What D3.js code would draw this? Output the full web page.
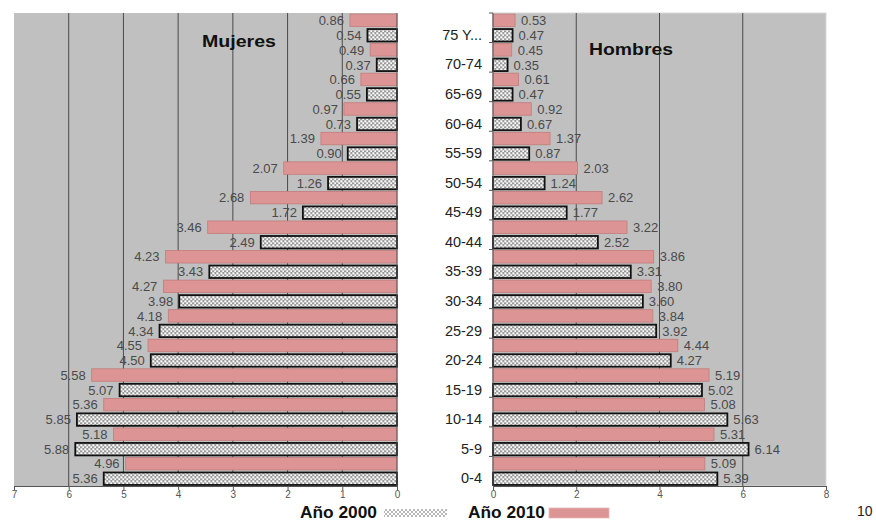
<!DOCTYPE html>
<html>
<head>
<meta charset="utf-8">
<script src="https://cdn.jsdelivr.net/npm/d3@7"></script>
<style>
  html, body { margin: 0; padding: 0; background: #fff; }
  svg { display: block; font-family: "Liberation Sans", Arial, sans-serif; }
</style>
</head>
<body>
<svg id="chart" width="876" height="521"></svg>
<script>
// ---- Data ----
const ageGroups = ["75 Y...", "70-74", "65-69", "60-64", "55-59", "50-54", "45-49", "40-44",
                   "35-39", "30-34", "25-29", "20-24", "15-19", "10-14", "5-9", "0-4"];
const series = ["2010", "2000"];
const mujeres2010 = [0.86, 0.49, 0.66, 0.97, 1.39, 2.07, 2.68, 3.46, 4.23, 4.27, 4.18, 4.55, 5.58, 5.36, 5.18, 4.96];
const mujeres2000 = [0.54, 0.37, 0.55, 0.73, 0.90, 1.26, 1.72, 2.49, 3.43, 3.98, 4.34, 4.50, 5.07, 5.85, 5.88, 5.36];
const hombres2010 = [0.53, 0.45, 0.61, 0.92, 1.37, 2.03, 2.62, 3.22, 3.86, 3.80, 3.84, 4.44, 5.19, 5.08, 5.31, 5.09];
const hombres2000 = [0.47, 0.35, 0.47, 0.67, 0.87, 1.24, 1.77, 2.52, 3.31, 3.60, 3.92, 4.27, 5.02, 5.63, 6.14, 5.39];
const leftTicks = [7, 6, 5, 4, 3, 2, 1, 0];
const rightTicks = [0, 2, 4, 6, 8];
const titles = { left: "Mujeres", right: "Hombres" };
const legendLabels = { "2000": "Año 2000", "2010": "Año 2010" };
const pageNumber = "10";

// ---- Setup ----
const svg = d3.select("#chart");
const plotTop = 13, plotBottom = 486;
const pink = "#dc9594";

const defs = svg.append("defs");
const pat = defs.append("pattern").attr("id", "check").attr("patternUnits", "userSpaceOnUse")
  .attr("width", 4).attr("height", 4);
pat.append("rect").attr("width", 4).attr("height", 4).attr("fill", "#9a9a9a");
pat.append("rect").attr("x", 0.3).attr("y", 0.3).attr("width", 2.1).attr("height", 2.1).attr("fill", "#fff");
pat.append("rect").attr("x", 2.3).attr("y", 2.3).attr("width", 2.1).attr("height", 2.1).attr("fill", "#fff");
const pat2 = defs.append("pattern").attr("id", "check2").attr("patternUnits", "userSpaceOnUse")
  .attr("width", 4).attr("height", 4);
pat2.append("rect").attr("width", 4).attr("height", 4).attr("fill", "#fff");
pat2.append("path").attr("d", "M0,0 L2,2 L4,0 M0,4 L2,2 L4,4").attr("stroke", "#9a9a9a").attr("stroke-width", 0.7).attr("fill", "none");

const y = d3.scaleBand().domain(ageGroups).range([plotTop, plotBottom]).padding(0);
const yi = d3.scaleBand().domain(series).range([0, y.bandwidth()]).paddingInner(0.17).paddingOuter(0.07);

const xL = d3.scaleLinear().domain([7, 0]).range([14, 397]);
const xR = d3.scaleLinear().domain([0, 8]).range([493, 826]);

function panel(x, ticks, d2010, d2000, side) {
  const g = svg.append("g");
  const x0 = x(0);
  const xa = d3.min(x.range()), xb = d3.max(x.range());
  g.append("rect").attr("x", xa).attr("y", plotTop).attr("width", xb - xa).attr("height", plotBottom - plotTop)
    .attr("fill", "#c0c0c0").attr("stroke", side === "right" ? "#d8d8d8" : "none").attr("stroke-width", 1);
  g.selectAll("line.grid").data(ticks.filter(t => t !== 0 && t !== d3.max(ticks)))
    .join("line").attr("class", "grid")
    .attr("x1", d => x(d)).attr("x2", d => x(d)).attr("y1", plotTop).attr("y2", plotBottom)
    .attr("stroke", "#4a4a4a").attr("stroke-width", 1);

  const rows = ageGroups.map((a, i) => [
    { age: a, s: "2010", v: d2010[i] },
    { age: a, s: "2000", v: d2000[i] }
  ]).flat();

  g.selectAll("rect.bar").data(rows).join("rect").attr("class", "bar")
    .attr("x", d => Math.min(x(0), x(d.v)))
    .attr("width", d => Math.abs(x(d.v) - x(0)))
    .attr("y", d => y(d.age) + yi(d.s))
    .attr("height", yi.bandwidth())
    .attr("fill", d => d.s === "2010" ? pink : "url(#check)")
    .attr("stroke", d => d.s === "2010" ? "#c27c7b" : "#111")
    .attr("stroke-width", d => d.s === "2010" ? 0.8 : 1.8);

  g.selectAll("text.val").data(rows).join("text").attr("class", "val")
    .attr("x", d => side === "left" ? x(d.v) - 6 : x(d.v) + 6)
    .attr("y", d => y(d.age) + yi(d.s) + yi.bandwidth() / 2)
    .attr("dy", "0.36em")
    .attr("text-anchor", side === "left" ? "end" : "start")
    .attr("font-size", 13).attr("fill", "#4a4a4a")
    .text(d => d3.format(".2f")(d.v));

  const ax = g.append("g").attr("transform", `translate(0,${plotBottom})`)
    .call(d3.axisBottom(x).tickValues(ticks).tickSize(4).tickSizeOuter(0).tickFormat(d3.format("d")));
  ax.select(".domain").attr("stroke", "#555");
  ax.selectAll(".tick line").attr("stroke", "#555");
  ax.selectAll(".tick text").attr("font-size", 10).attr("fill", "#555")
    .attr("font-family", "\"Liberation Sans\", Arial, sans-serif").attr("dy", "0.45em");

  g.append("line").attr("x1", x0).attr("x2", x0).attr("y1", plotTop).attr("y2", plotBottom)
    .attr("stroke", "#555").attr("stroke-width", 1);
  return g;
}

panel(xL, leftTicks, mujeres2010, mujeres2000, "left");
panel(xR, rightTicks, hombres2010, hombres2000, "right");

// category axis on right panel
const shift = yi("2000") + yi.bandwidth() / 2 - y.bandwidth() / 2;
const cat = svg.append("g").attr("transform", `translate(${xR(0)},0)`)
  .call(d3.axisLeft(y).tickSize(0).tickPadding(11));
cat.select(".domain").remove();
cat.selectAll(".tick text").attr("font-size", 14.5).attr("fill", "#222")
  .attr("font-family", "\"Liberation Sans\", Arial, sans-serif")
  .attr("transform", `translate(0,${shift})`);
svg.append("g").selectAll("line").data(ageGroups).join("line")
  .attr("x1", xR(0) - 4).attr("x2", xR(0))
  .attr("y1", d => y(d)).attr("y2", d => y(d))
  .attr("stroke", "#555");

// titles
svg.append("text").attr("x", 239).attr("y", 47).attr("text-anchor", "middle")
  .attr("font-size", 17).attr("font-weight", "bold").attr("fill", "#111")
  .attr("textLength", 74).attr("lengthAdjust", "spacingAndGlyphs").text(titles.left);
svg.append("text").attr("x", 631).attr("y", 55).attr("text-anchor", "middle")
  .attr("font-size", 17).attr("font-weight", "bold").attr("fill", "#111")
  .attr("textLength", 84).attr("lengthAdjust", "spacingAndGlyphs").text(titles.right);

// legend
svg.append("text").attr("x", 300).attr("y", 518).attr("font-size", 16).attr("font-weight", "bold")
  .attr("fill", "#111").attr("textLength", 77).attr("lengthAdjust", "spacingAndGlyphs").text(legendLabels["2000"]);
svg.append("rect").attr("x", 384).attr("y", 509).attr("width", 63).attr("height", 8).attr("fill", "url(#check2)");
svg.append("text").attr("x", 468).attr("y", 518).attr("font-size", 16).attr("font-weight", "bold")
  .attr("fill", "#111").attr("textLength", 77).attr("lengthAdjust", "spacingAndGlyphs").text(legendLabels["2010"]);
svg.append("rect").attr("x", 549).attr("y", 508).attr("width", 60).attr("height", 10)
  .attr("fill", pink).attr("stroke", "#e8b8b7").attr("stroke-width", 0.8);

svg.append("text").attr("x", 857).attr("y", 516).attr("font-size", 14).attr("fill", "#222").text(pageNumber);
</script>
</body>
</html>
